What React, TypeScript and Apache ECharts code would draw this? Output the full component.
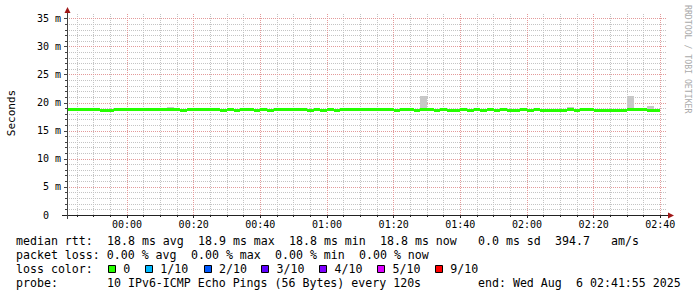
import React, { useEffect, useRef } from 'react';
import * as echarts from 'echarts';

// ---- time axis (minutes relative to 00:00) ----
const X_MIN = -18; // 23:42
const X_MAX = 162; // 02:42
const SAMPLE_START = -18;
const SAMPLE_STEP = 2; // probe every 120 s

// ---- median rtt per 2-minute step (ms) ----
const medianRtt = [
  18.85, 18.85, 18.85, 18.85, 18.85, 18.65, 18.65, 18.85, 18.85, 18.85,
  18.85, 18.85, 18.85, 18.85, 18.85, 18.85, 18.85, 18.65, 18.85, 18.85,
  18.85, 18.85, 18.85, 18.65, 18.85, 18.65, 18.85, 18.85, 18.65, 18.85,
  18.65, 18.85, 18.85, 18.85, 18.85, 18.85, 18.65, 18.85, 18.65, 18.85,
  18.65, 18.85, 18.85, 18.85, 18.85, 18.85, 18.85, 18.85, 18.85, 18.65,
  18.85, 18.85, 18.65, 18.85, 18.85, 18.65, 18.85, 18.65, 18.65, 18.85,
  18.65, 18.85, 18.65, 18.85, 18.65, 18.85, 18.65, 18.65, 18.85, 18.65,
  18.85, 18.65, 18.65, 18.65, 18.65, 18.85, 18.65, 18.85, 18.85, 18.65,
  18.65, 18.65, 18.65, 18.65, 18.85, 18.85, 18.85, 18.65, 18.65,
];

// ---- smoke (max ping) where it shows above the median ----
const smokeIndex = [15, 53, 75, 84, 87];
const smokeTop = [19.2, 21.2, 19.2, 21.2, 19.5];
const smokeBase = 18.6;

// ---- ticks ----
const xTickValues = [0, 20, 40, 60, 80, 100, 120, 140, 160];
const xTickLabels = ['00:00', '00:20', '00:40', '01:00', '01:20', '01:40', '02:00', '02:20', '02:40'];
const yTickValues = [0, 5, 10, 15, 20, 25, 30, 35];
const yTickLabels = ['0', '5 m', '10 m', '15 m', '20 m', '25 m', '30 m', '35 m'];
const Y_MAX = 36;

// ---- legend ----
const rttStats = ['18.8 ms avg', '18.9 ms max', '18.8 ms min', '18.8 ms now'];
const rttSd = '0.0 ms sd';
const rttAmps = '394.7';
const lossStats = ['0.00 % avg', '0.00 % max', '0.00 % min', '0.00 % now'];
const lossLabels = ['0', '1/10', '2/10', '3/10', '4/10', '5/10', '9/10'];
const lossColors = ['#26ff00', '#00b8ff', '#0059ff', '#5e00ff', '#7e00ff', '#dd00ff', '#ff0000'];
const probeText = '10 IPv6-ICMP Echo Pings (56 Bytes) every 120s';
const endText = 'end: Wed Aug  6 02:41:55 2025';

const MONO = "'DejaVu Sans Mono', monospace";
const BAND_HALF = 0.27; // half thickness of the median band, in ms

function minorValues(from: number, to: number, step: number, major: number) {
  const out: number[] = [];
  for (let v = from; v <= to; v += step) {
    if (v % major !== 0) out.push(v);
  }
  return out;
}

function tokens(line: string) {
  const out: { col: number; text: string }[] = [];
  const re = /\S+(?: \S+)*/g;
  let m: RegExpExecArray | null;
  while ((m = re.exec(line))) out.push({ col: m.index, text: m[0] });
  return out;
}

function rectItem(api: any, x0: number, x1: number, yLow: number, yHigh: number, fill: string) {
  const p0 = api.coord([x0, yHigh]);
  const p1 = api.coord([x1, yLow]);
  const left = Math.round(p0[0]);
  const right = Math.round(p1[0]);
  const top = Math.round(p0[1]);
  const bottom = Math.round(p1[1]);
  return {
    type: 'rect',
    shape: { x: left, y: top, width: right - left, height: Math.max(1, bottom - top) },
    style: { fill },
  };
}

function buildOption() {
  const xMinor = minorValues(-15, 155, 5, 20);
  const yMinor = minorValues(1, 35, 1, 5);
  const majorStyle = { color: '#e39a9a', width: 1, type: [1, 1] as any };
  const minorStyle = { color: '#c4c4c4', width: 1, type: [1, 1] as any };

  const gridLines: any[] = [];
  yMinor.forEach((v) => gridLines.push({ yAxis: v, lineStyle: minorStyle }));
  xMinor.forEach((v) => gridLines.push({ xAxis: v, lineStyle: minorStyle }));
  yTickValues.filter((v) => v > 0).forEach((v) => gridLines.push({ yAxis: v, lineStyle: majorStyle }));
  xTickValues.forEach((v) => gridLines.push({ xAxis: v, lineStyle: majorStyle }));

  const medianData = medianRtt.map((v, i) => [SAMPLE_START + SAMPLE_STEP * i, v]);
  const smokeData = smokeIndex.map((i, k) => [SAMPLE_START + SAMPLE_STEP * i, smokeBase, smokeTop[k]]);

  // legend graphics
  const CW = 7;
  const LX = 16;
  const FS = 11.6;
  const graphics: any[] = [];
  const addLine = (line: string, y: number) => {
    tokens(line).forEach((t) =>
      graphics.push({
        type: 'text',
        x: LX + t.col * CW,
        y,
        silent: true,
        style: { text: t.text, fontFamily: MONO, fontSize: FS, fill: '#000', verticalAlign: 'middle', align: 'left' },
      })
    );
  };
  const line1 = 'median rtt:  ' + rttStats.join('  ') + '   ' + rttSd + '  ' + rttAmps + '   am/s';
  const line2 = 'packet loss: ' + lossStats.join('  ');
  const line4 = ('probe:       ' + probeText).padEnd(66, ' ') + endText;
  addLine(line1, 241);
  addLine(line2, 255);
  addLine('loss color:', 269);
  addLine(line4, 283);

  const boxX = [108, 145, 203.7, 261.3, 319.3, 377.3, 435];
  lossLabels.forEach((lab, k) => {
    graphics.push({
      type: 'rect',
      silent: true,
      shape: { x: Math.round(boxX[k]) + 0.5, y: 265.5, width: 7, height: 7 },
      style: { fill: lossColors[k], stroke: '#000', lineWidth: 1 },
    });
    graphics.push({
      type: 'text',
      x: boxX[k] + 15.3,
      y: 269,
      silent: true,
      style: { text: lab, fontFamily: MONO, fontSize: FS, fill: '#000', verticalAlign: 'middle', align: 'left' },
    });
  });

  // axis label & watermark
  graphics.push({
    type: 'text',
    x: 11,
    y: 113,
    rotation: Math.PI / 2,
    silent: true,
    style: { text: 'Seconds', fontFamily: MONO, fontSize: 11, fill: '#000', align: 'center', verticalAlign: 'middle' },
  });
  graphics.push({
    type: 'text',
    x: 687.5,
    y: 5,
    rotation: -Math.PI / 2,
    silent: true,
    style: { text: 'RRDTOOL / TOBI OETIKER', fontFamily: MONO, fontSize: 8.2, fill: '#aaaaaa', align: 'left', verticalAlign: 'middle' },
  });

  // axis lines and arrows
  graphics.push({ type: 'line', silent: true, z: 10, shape: { x1: 62, y1: 215.5, x2: 668, y2: 215.5 }, style: { stroke: '#222', lineWidth: 1 } });
  graphics.push({ type: 'line', silent: true, z: 10, shape: { x1: 67.5, y1: 13, x2: 67.5, y2: 219 }, style: { stroke: '#444', lineWidth: 1 } });
  graphics.push({ type: 'polygon', silent: true, z: 10, shape: { points: [[64.5, 13], [70.5, 13], [67.5, 7]] }, style: { fill: '#a01818' } });
  graphics.push({ type: 'polygon', silent: true, z: 10, shape: { points: [[668, 212.5], [668, 218.5], [674, 215.5]] }, style: { fill: '#a01818' } });

  return {
    animation: false,
    backgroundColor: '#ffffff',
    grid: { left: 67, top: 13, width: 600, height: 202, containLabel: false, outerBoundsMode: 'none' },
    xAxis: [
      {
        type: 'value',
        min: X_MIN,
        max: X_MAX,
        position: 'bottom',
        axisLine: { show: false, onZero: false },
        axisTick: { show: true, length: 3, customValues: xTickValues, lineStyle: { color: '#222' } },
        axisLabel: {
          show: true,
          customValues: xTickValues,
          margin: 4,
          fontFamily: MONO,
          fontSize: 10,
          color: '#000',
          formatter: (v: number) => {
            const k = xTickValues.indexOf(v);
            return k >= 0 ? xTickLabels[k] : '';
          },
        },
        splitLine: { show: false },
      },
      {
        type: 'value',
        min: X_MIN,
        max: X_MAX,
        position: 'bottom',
        axisLine: { show: false, onZero: false },
        axisTick: { show: true, length: 2, customValues: xMinor, lineStyle: { color: '#222' } },
        axisLabel: { show: false },
        splitLine: { show: false },
      },
    ],
    yAxis: [
      {
        type: 'value',
        min: 0,
        max: Y_MAX,
        position: 'left',
        axisLine: { show: false, onZero: false },
        axisTick: { show: true, length: 3, customValues: yTickValues, lineStyle: { color: '#444' } },
        axisLabel: {
          show: true,
          customValues: yTickValues,
          margin: 6,
          fontFamily: MONO,
          fontSize: 10,
          color: '#000',
          formatter: (v: number) => {
            const k = yTickValues.indexOf(v);
            if (k < 0) return '';
            return v === 0 ? yTickLabels[k] + '\u00a0\u00a0' : yTickLabels[k];
          },
        },
        splitLine: { show: false },
      },
      {
        type: 'value',
        min: 0,
        max: Y_MAX,
        position: 'left',
        axisLine: { show: false, onZero: false },
        axisTick: { show: true, length: 2, customValues: yMinor, lineStyle: { color: '#444' } },
        axisLabel: { show: false },
        splitLine: { show: false },
      },
    ],
    series: [
      {
        type: 'line',
        name: 'grid',
        xAxisIndex: 0,
        yAxisIndex: 0,
        data: [[X_MIN, -5]],
        showSymbol: false,
        silent: true,
        z: 1,
        lineStyle: { width: 0 },
        markLine: {
          silent: true,
          z: 1,
          symbol: ['none', 'none'],
          label: { show: false },
          emphasis: { disabled: true },
          animation: false,
          data: gridLines,
        },
      },
      {
        type: 'custom',
        name: 'smoke',
        xAxisIndex: 0,
        yAxisIndex: 0,
        silent: true,
        z: 2,
        data: smokeData,
        renderItem: (params: any, api: any) => {
          const x0 = api.value(0);
          return rectItem(api, x0, x0 + SAMPLE_STEP, api.value(1), api.value(2), '#c8c8c8');
        },
      },
      {
        type: 'custom',
        name: 'median rtt',
        xAxisIndex: 0,
        yAxisIndex: 0,
        silent: true,
        z: 3,
        data: medianData,
        renderItem: (params: any, api: any) => {
          const x0 = api.value(0);
          const v = api.value(1);
          return rectItem(api, x0, x0 + SAMPLE_STEP, v - BAND_HALF, v + BAND_HALF, '#26ff00');
        },
      },
    ],
    graphic: graphics,
  };
}

export default function App() {
  const ref = useRef<HTMLDivElement>(null);
  useEffect(() => {
    document.body.style.margin = '0';
    const chart = echarts.init(ref.current!, null, { renderer: 'svg' });
    chart.setOption(buildOption() as any);
    return () => chart.dispose();
  }, []);
  return <div ref={ref} style={{ width: 697, height: 297 }} />;
}
